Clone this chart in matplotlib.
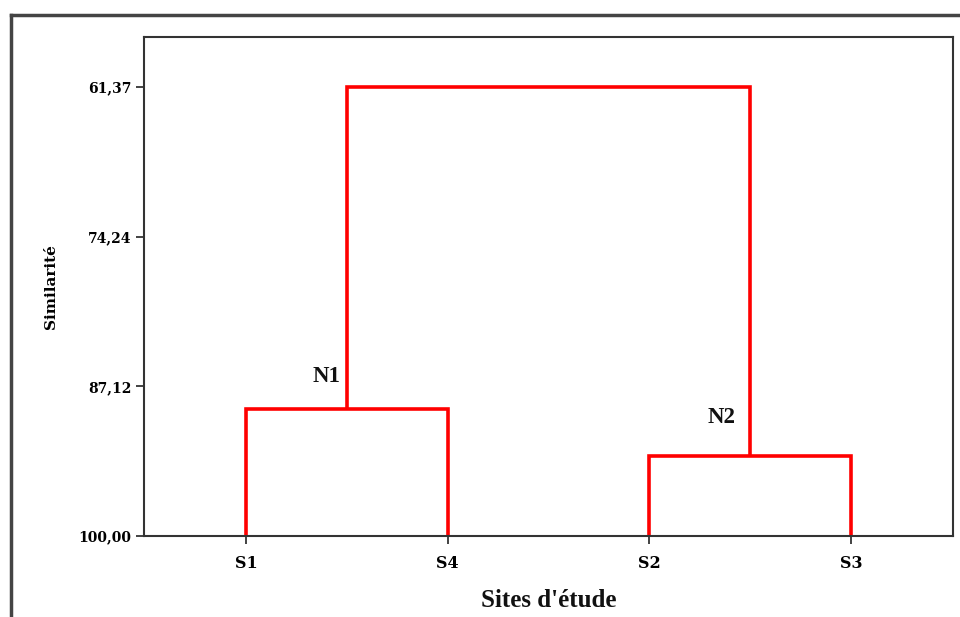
import matplotlib
matplotlib.use("Agg")
import matplotlib.pyplot as plt
from matplotlib.lines import Line2D

# Sites and their leaf order in the dendrogram
sites = ["S1", "S4", "S2", "S3"]
# Similarity levels (%) at which clusters join
n1_level = 89.07   # S1 + S4
n2_level = 93.16   # S2 + S3
root_level = 61.37  # N1 + N2
node_names = ["N1", "N2"]
ytick_values = [61.37, 74.24, 87.12, 100.00]
ytick_labels = ["61,37", "74,24", "87,12", "100,00"]

red = "#ff0000"
serif = ["Liberation Serif", "DejaVu Serif"]
tickfont = ["DejaVu Serif"]

fig = plt.figure(figsize=(9.6, 6.17), dpi=100)
ax = fig.add_axes([144 / 960, 1 - 536 / 617, (953 - 144) / 960, (536 - 37) / 617])

x = {s: i + 1 for i, s in enumerate(sites)}
lw = 2.6

def link(xa, ya, xb, yb, h):
    ax.plot([xa, xa, xb, xb], [ya, h, h, yb], color=red, lw=lw,
            solid_joinstyle="miter", solid_capstyle="butt")

# N1: S1 + S4
link(x["S1"], 100, x["S4"], 100, n1_level)
# N2: S2 + S3
link(x["S2"], 100, x["S3"], 100, n2_level)
# root: N1 + N2
xn1 = (x["S1"] + x["S4"]) / 2
xn2 = (x["S2"] + x["S3"]) / 2
link(xn1, n1_level, xn2, n2_level, root_level)

ax.text(xn1 - 0.1, n1_level - 1.85, node_names[0], ha="center", va="bottom",
        fontsize=16.5, fontweight="bold", family=serif, color="#111111")
ax.text(xn2 - 0.14, n2_level - 2.45, node_names[1], ha="center", va="bottom",
        fontsize=16.5, fontweight="bold", family=serif, color="#111111")

top = root_level - 50 / (449 / (100 - root_level))
ax.set_ylim(100, top)
ax.set_xlim(0.495, 4.505)

ax.set_yticks(ytick_values)
ax.set_yticklabels(ytick_labels)
ax.set_xticks([x[s] for s in sites])
ax.set_xticklabels(sites)
ax.tick_params(axis="both", direction="out", length=6, width=1.2, color="#222222")
ax.tick_params(axis="y", pad=3)
ax.tick_params(axis="x", pad=8)
for lbl in ax.get_yticklabels():
    lbl.set_fontfamily(tickfont)
    lbl.set_fontweight("bold")
    lbl.set_fontsize(10)
for lbl in ax.get_xticklabels():
    lbl.set_fontfamily(tickfont)
    lbl.set_fontweight("bold")
    lbl.set_fontsize(11.5)

for sp in ax.spines.values():
    sp.set_linewidth(1.5)
    sp.set_color("#333333")

ax.set_xlabel("Sites d'étude", fontsize=18, fontweight="bold", family=serif,
              labelpad=12, color="#111111")
ax.set_ylabel("Similarité", fontsize=11, fontweight="bold", family=tickfont,
              labelpad=15)

# Outer frame (top and left edges visible)
fig.add_artist(Line2D([11 / 960, 1], [1 - 15 / 617, 1 - 15 / 617],
                      transform=fig.transFigure, color="#444444", lw=2.5))
fig.add_artist(Line2D([11 / 960, 11 / 960], [0, 1 - 15 / 617],
                      transform=fig.transFigure, color="#444444", lw=2.5))

fig.savefig("out.png", dpi=100)
